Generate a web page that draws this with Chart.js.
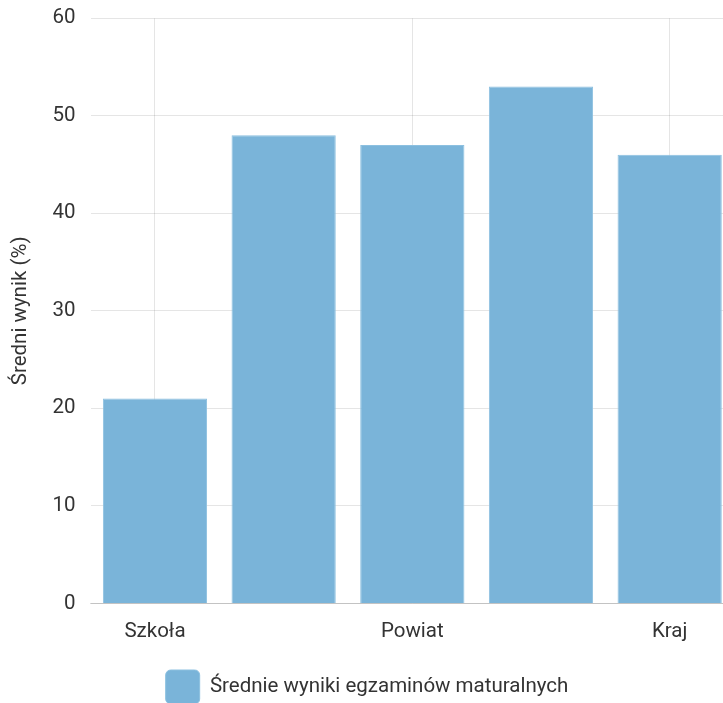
<!DOCTYPE html>
<html>
<head>
<meta charset="utf-8">
<script src="https://cdn.jsdelivr.net/npm/chart.js@4"></script>
<style>
  html, body { margin: 0; padding: 0; overflow: hidden; background: #fff; }
  #wrap { width: 734px; height: 723px; position: relative; margin-top: -9px; }
</style>
</head>
<body>
<div id="wrap"><canvas id="c"></canvas></div>
<script>
const categories = ['Szkoła', 'Gmina', 'Powiat', 'Województwo', 'Kraj'];
const seriesLabel = 'Średnie wyniki egzaminów maturalnych';
const values = [21, 48, 47, 53, 46];
const yTitle = 'Średni wynik (%)';

const FONT = { family: 'Roboto', size: 20.5 };
Chart.defaults.font.family = 'Roboto';
Chart.defaults.color = '#333';

new Chart(document.getElementById('c'), {
  type: 'bar',
  data: {
    labels: categories,
    datasets: [{
      label: seriesLabel,
      data: values,
      backgroundColor: '#7ab4d9',
      borderColor: '#8cc0e0',
      borderWidth: 1,
      categoryPercentage: 0.9,
      barPercentage: 0.9
    }]
  },
  options: {
    responsive: true,
    maintainAspectRatio: false,
    animation: false,
    scales: {
      x: {
        grid: { offset: false, drawTicks: false, color: 'rgba(0,0,0,0.1)' },
        border: { display: true, color: 'rgba(0,0,0,0.15)' },
        ticks: { font: FONT, padding: 16, autoSkip: true, maxTicksLimit: 3, maxRotation: 0 }
      },
      y: {
        min: 0, max: 60,
        grid: { drawTicks: false, color: 'rgba(0,0,0,0.1)' },
        border: { display: false },
        ticks: { font: FONT, stepSize: 10, padding: 15 },
        title: { display: true, text: yTitle, font: FONT, padding: { top: 9, bottom: 4 } }
      }
    },
    plugins: {
      legend: {
        position: 'bottom',
        labels: { font: FONT, boxWidth: 34, boxHeight: 34, useBorderRadius: true, borderRadius: 5, padding: 10 }
      },
      tooltip: { enabled: false }
    }
  }
});
</script>
</body>
</html>
